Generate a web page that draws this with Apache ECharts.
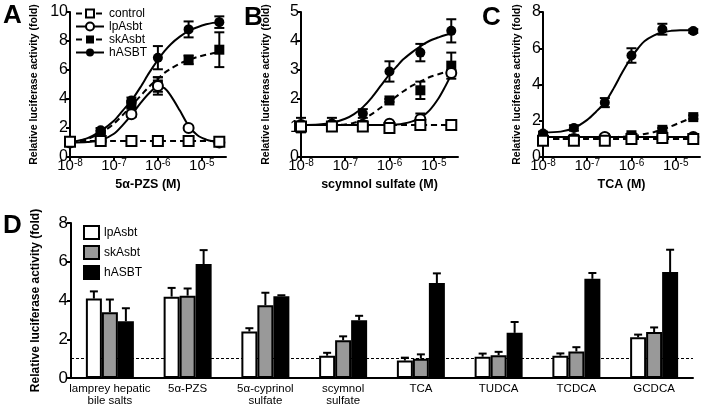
<!DOCTYPE html>
<html><head><meta charset="utf-8">
<script src="https://cdn.jsdelivr.net/npm/echarts@6/dist/echarts.min.js"></script>
<style>html,body{margin:0;padding:0;background:#fff}#c{width:703px;height:411px}</style>
</head><body><div id="c"></div>
<script>
// ---------- DATA ----------
const conc = [1e-8, 5e-8, 2.5e-7, 1e-6, 5e-6, 2.5e-5];
const xTicks = [-8, -7, -6, -5];
const fitX = [-8, -7.6, -7.3, -7.0, -6.8, -6.6, -6.4, -6.2, -6.0, -5.85, -5.7, -5.5, -5.3, -5.1, -4.9, -4.75, -4.6];

// Panel A (5α-PZS)
const A_ctl = [1.05, 1.1, 1.1, 1.1, 1.1, 1.05];
const A_ctl_err = [0.05, 0.05, 0.05, 0.05, 0.05, 0.05];
const A_lp = [1.0, 1.1, 2.95, 4.9, 2.0, 1.0];
const A_lp_err = [0.05, 0.1, 0.2, 0.6, 0.15, 0.05];
const A_sk = [1.05, 1.7, 3.6, 5.0, 6.7, 7.4];
const A_sk_err = [0.1, 0.1, 0.2, 0.5, 0.3, 1.2];
const A_h = [1.0, 1.85, 3.9, 6.85, 8.8, 9.3];
const A_h_err = [0.1, 0.15, 0.2, 0.8, 0.55, 0.4];
const A_fit_ctl = [1.1, 1.1, 1.1, 1.1, 1.1, 1.1, 1.1, 1.1, 1.1, 1.1, 1.1, 1.1, 1.1, 1.1, 1.1, 1.1, 1.1];
const A_fit_lp = [1.0, 1.03, 1.15, 1.6, 2.2, 2.9, 3.7, 4.4, 4.85, 4.75, 4.2, 3.2, 2.15, 1.5, 1.2, 1.08, 1.02];
const A_fit_sk = [1.0, 1.25, 1.65, 2.3, 2.9, 3.55, 4.2, 4.85, 5.4, 5.8, 6.1, 6.45, 6.7, 6.9, 7.05, 7.15, 7.25];
const A_fit_h = [1.0, 1.3, 1.8, 2.5, 3.2, 3.9, 4.8, 5.8, 6.7, 7.3, 7.8, 8.3, 8.7, 8.95, 9.15, 9.25, 9.3];

// Panel B (scymnol sulfate)
const B_ctl = [1.05, 1.05, 1.05, 1.0, 1.1, 1.1];
const B_ctl_err = [0.05, 0.05, 0.05, 0.05, 0.05, 0.05];
const B_lp = [1.1, 1.1, 1.1, 1.15, 1.3, 2.9];
const B_lp_err = [0.1, 0.1, 0.05, 0.05, 0.2, 0.1];
const B_sk = [1.0, 1.05, 1.1, 1.95, 2.3, 3.15];
const B_sk_err = [0.1, 0.1, 0.1, 0.05, 0.3, 0.45];
const B_h = [1.1, 1.15, 1.5, 2.95, 3.6, 4.35];
const B_h_err = [0.25, 0.2, 0.15, 0.35, 0.3, 0.4];
const B_fit_ctl = [1.1, 1.1, 1.1, 1.1, 1.1, 1.1, 1.1, 1.1, 1.1, 1.1, 1.1, 1.1, 1.1, 1.1, 1.1, 1.1, 1.1];
const B_fit_lp = [1.1, 1.1, 1.1, 1.1, 1.1, 1.1, 1.1, 1.1, 1.1, 1.12, 1.15, 1.22, 1.35, 1.6, 2.0, 2.4, 2.85];
const B_fit_sk = [1.1, 1.1, 1.1, 1.12, 1.18, 1.3, 1.48, 1.7, 1.92, 2.08, 2.25, 2.45, 2.6, 2.75, 2.85, 2.92, 2.97];
const B_fit_h = [1.1, 1.12, 1.18, 1.32, 1.48, 1.72, 2.05, 2.45, 2.85, 3.1, 3.35, 3.6, 3.82, 4.0, 4.12, 4.2, 4.25];

// Panel C (TCA)
const C_ctl = [0.9, 0.9, 0.9, 1.0, 1.05, 1.0];
const C_ctl_err = [0.05, 0.05, 0.05, 0.05, 0.05, 0.05];
const C_lp = [1.0, 1.0, 1.1, 1.1, 1.1, 1.1];
const C_lp_err = [0.1, 0.1, 0.1, 0.1, 0.1, 0.1];
const C_sk = [1.0, 1.0, 1.05, 1.2, 1.5, 2.2];
const C_sk_err = [0.1, 0.1, 0.1, 0.1, 0.1, 0.1];
const C_h = [1.3, 1.6, 3.0, 5.6, 7.05, 6.95];
const C_h_err = [0.1, 0.15, 0.25, 0.4, 0.3, 0.1];
const C_fit_ctl = [1.0, 1.0, 1.0, 1.0, 1.0, 1.0, 1.0, 1.0, 1.0, 1.0, 1.0, 1.0, 1.0, 1.0, 1.0, 1.0, 1.0];
const C_fit_lp = [1.1, 1.1, 1.1, 1.1, 1.1, 1.1, 1.1, 1.1, 1.1, 1.1, 1.1, 1.1, 1.1, 1.1, 1.1, 1.1, 1.1];
const C_fit_sk = [1.0, 1.0, 1.02, 1.04, 1.06, 1.08, 1.1, 1.12, 1.15, 1.2, 1.27, 1.37, 1.52, 1.7, 1.9, 2.05, 2.2];
const C_fit_h = [1.35, 1.4, 1.6, 2.05, 2.5, 3.0, 3.8, 4.7, 5.5, 6.0, 6.4, 6.7, 6.88, 6.96, 7.0, 7.0, 7.0];

// Panel D (bars)
const D_cats = ['lamprey hepatic\nbile salts', '5α-PZS', '5α-cyprinol\nsulfate', 'scymnol\nsulfate', 'TCA', 'TUDCA', 'TCDCA', 'GCDCA'];
const D_lp = [4.1, 4.2, 2.4, 1.15, 0.9, 1.1, 1.15, 2.1];
const D_lp_err = [0.37, 0.45, 0.17, 0.15, 0.15, 0.16, 0.12, 0.14];
const D_sk = [3.4, 4.25, 3.75, 1.95, 1.0, 1.18, 1.37, 2.37];
const D_sk_err = [0.65, 0.37, 0.65, 0.2, 0.22, 0.17, 0.22, 0.24];
const D_h = [2.93, 5.88, 4.22, 2.98, 4.9, 2.33, 5.12, 5.47];
const D_h_err = [0.67, 0.72, 0.05, 0.23, 0.5, 0.56, 0.3, 1.15];
const baseline = 1;

// ---------- CHART ----------
const FONT = '"Liberation Sans", Arial, Helvetica, sans-serif';
const BLK = '#000';
const chart = echarts.init(document.getElementById('c'), null, {renderer: 'canvas'});
const logC = conc.map(c => Math.log10(c));

const topGrids = [
  {left: 70, top: 12, width: 156, height: 145},
  {left: 301, top: 12, width: 157, height: 145},
  {left: 543, top: 12, width: 157, height: 145}
];
const xNames = ['5α-PZS (M)', 'scymnol sulfate (M)', 'TCA (M)'];
const yMax = [10, 5, 8];
const yInt = [2, 1, 2];
const yGap = [30, 29, 20];

const grids = topGrids.concat([{left: 71, top: 223, width: 622, height: 155}]);
const xAxes = [], yAxes = [];
for (let i = 0; i < 3; i++) {
  xAxes.push({
    gridIndex: i, type: 'value', min: -8, max: -4.45, interval: 1,
    name: xNames[i], nameLocation: 'middle', nameGap: 21,
    nameTextStyle: {fontFamily: FONT, fontSize: 12.5, fontWeight: 'bold', color: BLK},
    axisLine: {lineStyle: {color: BLK, width: 2}},
    axisTick: {length: 4, lineStyle: {color: BLK, width: 2}, customValues: xTicks},
    splitLine: {show: false},
    axisLabel: {
      customValues: xTicks, margin: 1, color: BLK,
      formatter: v => (Math.abs(v - Math.round(v)) < 1e-6 ? '{b|10}{s|' + Math.round(v) + '}' : ''),
      rich: {
        b: {fontFamily: FONT, fontSize: 15, color: BLK},
        s: {fontFamily: FONT, fontSize: 10, color: BLK, verticalAlign: 'top'}
      }
    }
  });
  yAxes.push({
    gridIndex: i, type: 'value', min: 0, max: yMax[i], interval: yInt[i],
    name: 'Relative luciferase activity (fold)', nameLocation: 'middle', nameGap: yGap[i],
    nameTextStyle: {fontFamily: FONT, fontSize: 10.5, fontWeight: 'bold', color: BLK},
    axisLine: {show: true, lineStyle: {color: BLK, width: 2}},
    axisTick: {show: true, length: 4, lineStyle: {color: BLK, width: 2}},
    splitLine: {show: false},
    axisLabel: {fontFamily: FONT, fontSize: 16, color: BLK, margin: 2}
  });
}
xAxes.push({
  gridIndex: 3, type: 'category', data: D_cats,
  axisLine: {lineStyle: {color: BLK, width: 2}},
  axisTick: {show: false},
  axisLabel: {interval: 0, fontFamily: FONT, fontSize: 11.5, color: BLK, lineHeight: 12, margin: 5}
});
yAxes.push({
  gridIndex: 3, type: 'value', min: 0, max: 8, interval: 2,
  name: 'Relative luciferase activity (fold)', nameLocation: 'middle', nameGap: 29,
  nameTextStyle: {fontFamily: FONT, fontSize: 12, fontWeight: 'bold', color: BLK},
  axisLine: {show: true, lineStyle: {color: BLK, width: 2}},
  axisTick: {show: true, length: 4, lineStyle: {color: BLK, width: 2}},
  splitLine: {show: false},
  axisLabel: {fontFamily: FONT, fontSize: 17, color: BLK, margin: 3}
});

function errBoth(params, api) {
  const x = api.value(0), y = api.value(1), e = api.value(2);
  const hi = api.coord([x, y + e]), lo = api.coord([x, y - e]);
  const w = 5, st = {stroke: BLK, lineWidth: 2};
  return {type: 'group', children: [
    {type: 'line', shape: {x1: hi[0], y1: hi[1], x2: lo[0], y2: lo[1]}, style: st},
    {type: 'line', shape: {x1: hi[0] - w, y1: hi[1], x2: hi[0] + w, y2: hi[1]}, style: st},
    {type: 'line', shape: {x1: lo[0] - w, y1: lo[1], x2: lo[0] + w, y2: lo[1]}, style: st}
  ]};
}
const BARW = 16;
function errUpFactory(k) {
  return function (params, api) {
    const c = api.value(0), y = api.value(1), e = api.value(2);
    const b = api.coord([c, y]), t = api.coord([c, y + e]);
    const x = b[0] + (k - 1) * BARW;
    const w = 4, st = {stroke: BLK, lineWidth: 2};
    return {type: 'group', children: [
      {type: 'line', shape: {x1: x, y1: b[1], x2: x, y2: t[1]}, style: st},
      {type: 'line', shape: {x1: x - w, y1: t[1], x2: x + w, y2: t[1]}, style: st}
    ]};
  };
}

const groups = [
  {key: 'hASBT', sym: 'circle', fill: BLK, dash: 'solid'},
  {key: 'skAsbt', sym: 'rect', fill: BLK, dash: [6, 4]},
  {key: 'lpAsbt', sym: 'circle', fill: '#fff', dash: 'solid'},
  {key: 'control', sym: 'rect', fill: '#fff', dash: [6, 4]}
];
const panelData = [
  {control: [A_ctl, A_ctl_err, A_fit_ctl], lpAsbt: [A_lp, A_lp_err, A_fit_lp], skAsbt: [A_sk, A_sk_err, A_fit_sk], hASBT: [A_h, A_h_err, A_fit_h]},
  {control: [B_ctl, B_ctl_err, B_fit_ctl], lpAsbt: [B_lp, B_lp_err, B_fit_lp], skAsbt: [B_sk, B_sk_err, B_fit_sk], hASBT: [B_h, B_h_err, B_fit_h]},
  {control: [C_ctl, C_ctl_err, C_fit_ctl], lpAsbt: [C_lp, C_lp_err, C_fit_lp], skAsbt: [C_sk, C_sk_err, C_fit_sk], hASBT: [C_h, C_h_err, C_fit_h]}
];
const series = [];
for (let p = 0; p < 3; p++) {
  const pd = panelData[p];
  groups.forEach(g => {
    const fit = pd[g.key][2];
    series.push({
      type: 'line', name: p === 0 ? g.key : ('P' + p + ':' + g.key),
      xAxisIndex: p, yAxisIndex: p, smooth: 0.3, showSymbol: false,
      symbol: g.fill === '#fff' ? 'empty' + (g.sym === 'rect' ? 'Rect' : 'Circle') : g.sym,
      itemStyle: {color: BLK},
      lineStyle: {color: BLK, width: 2, type: g.dash},
      data: fitX.map((x, i) => [x, fit[i]]), z: 2, silent: true
    });
  });
  groups.forEach(g => {
    const v = pd[g.key][0], e = pd[g.key][1];
    series.push({
      type: 'custom', name: 'err' + p + g.key, xAxisIndex: p, yAxisIndex: p,
      renderItem: errBoth, data: logC.map((x, i) => [x, v[i], e[i]]), z: 3, silent: true
    });
  });
  groups.forEach(g => {
    const v = pd[g.key][0];
    series.push({
      type: 'scatter', name: 'pt' + p + g.key, xAxisIndex: p, yAxisIndex: p,
      symbol: g.sym, symbolSize: 10,
      itemStyle: {color: g.fill, borderColor: BLK, borderWidth: g.fill === '#fff' ? 2 : 0, opacity: 1},
      data: logC.map((x, i) => [x, v[i]]), z: 4, silent: true
    });
  });
}

const barDefs = [
  {name: 'D:lpAsbt', v: D_lp, e: D_lp_err, color: '#fff'},
  {name: 'D:skAsbt', v: D_sk, e: D_sk_err, color: '#999'},
  {name: 'D:hASBT', v: D_h, e: D_h_err, color: BLK}
];
barDefs.forEach((b, k) => {
  const s = {
    type: 'bar', name: b.name, xAxisIndex: 3, yAxisIndex: 3,
    barWidth: BARW, barGap: '0%', data: b.v, z: 3,
    itemStyle: {color: b.color, borderColor: BLK, borderWidth: 2}, silent: true
  };
  if (k === 0) {
    s.markLine = {
      silent: true, symbol: 'none', z: 1, animation: false,
      label: {show: false},
      lineStyle: {color: BLK, width: 1, type: [3, 2]},
      data: [{yAxis: baseline}]
    };
  }
  series.push(s);
});
barDefs.forEach((b, k) => {
  series.push({
    type: 'custom', name: 'errD' + k, xAxisIndex: 3, yAxisIndex: 3,
    renderItem: errUpFactory(k), data: b.v.map((y, i) => [i, y, b.e[i]]), z: 2, silent: true
  });
});

const letter = (t, x, y) => ({type: 'text', left: x, top: y, style: {text: t, fontFamily: FONT, fontSize: 26, fontWeight: 'bold', fill: BLK}});

chart.setOption({
  animation: false,
  backgroundColor: '#fff',
  grid: grids,
  xAxis: xAxes,
  yAxis: yAxes,
  legend: [
    {
      data: ['control', 'lpAsbt', 'skAsbt', 'hASBT'], orient: 'vertical', padding: 0,
      left: 75, top: 7, itemWidth: 28, itemHeight: 10, itemGap: 0,
      textStyle: {fontFamily: FONT, fontSize: 12, lineHeight: 13, color: BLK}, selectedMode: false
    },
    {
      data: ['D:lpAsbt', 'D:skAsbt', 'D:hASBT'], orient: 'vertical', padding: 0,
      left: 83, top: 225, itemWidth: 15, itemHeight: 13, itemGap: 5, icon: 'rect',
      formatter: n => n.replace('D:', ''),
      textStyle: {fontFamily: FONT, fontSize: 12, color: BLK}, selectedMode: false
    }
  ],
  graphic: [letter('A', 3, 3), letter('B', 244, 5), letter('C', 482, 5), letter('D', 3, 213)],
  series: series
});
</script></body></html>
